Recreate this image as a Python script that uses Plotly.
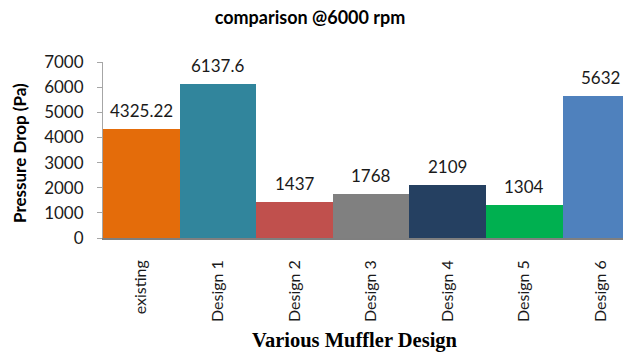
import plotly.graph_objects as go

categories = ["existing", "Design 1", "Design 2", "Design 3", "Design 4", "Design 5", "Design 6"]
values = [4325.22, 6137.6, 1437, 1768, 2109, 1304, 5632]
value_labels = ["4325.22", "6137.6", "1437", "1768", "2109", "1304", "5632"]
bar_colors = ["#E46C0A", "#31859C", "#C0504D", "#808080", "#254061", "#00B050", "#4F81BD"]
y_ticks = [0, 1000, 2000, 3000, 4000, 5000, 6000, 7000]

W, H = 623, 352
ML, MR, MT, MB = 103, 0, 62, 114
PW = W - ML - MR
PH = H - MT - MB

fig = go.Figure()
fig.add_trace(go.Bar(
    x=list(range(len(categories))), y=values,
    marker=dict(color=bar_colors, line=dict(width=0)),
    width=1.0,
    hoverinfo="skip",
))

annotations = []
for i, (v, t) in enumerate(zip(values, value_labels)):
    annotations.append(dict(
        x=i, y=v, xref="x", yref="y", text=t, showarrow=False,
        yanchor="bottom", yshift=6,
        font=dict(family="Lato", size=17, color="#1a1a1a"),
    ))

# Y axis title
annotations.append(dict(
    x=-(ML - 19) / PW, y=(H - MB - 153) / PH, xref="paper", yref="paper",
    text="<b>Pressure Drop (Pa)</b>", showarrow=False, textangle=-90,
    xanchor="center", yanchor="middle",
    font=dict(family="Lato", size=17, color="#000000"),
))
# X axis title
annotations.append(dict(
    x=(355 - ML) / PW, y=-(340 - (H - MB)) / PH, xref="paper", yref="paper",
    text="<b>Various Muffler Design</b>", showarrow=False,
    xanchor="center", yanchor="middle",
    font=dict(family="Liberation Serif", size=20.5, color="#000000"),
))

fig.update_layout(
    width=W, height=H,
    margin=dict(l=ML, r=MR, t=MT, b=MB),
    paper_bgcolor="white", plot_bgcolor="white",
    bargap=0,
    showlegend=False,
    title=dict(
        text="<b>comparison @6000 rpm</b>",
        x=310 / W, y=1 - 18 / H, xref="container", yref="container",
        xanchor="center", yanchor="middle",
        font=dict(family="Lato", size=18, color="#000000"),
    ),
    annotations=annotations,
    xaxis=dict(
        tickmode="array", tickvals=list(range(len(categories))), ticktext=categories,
        range=[-0.5, -0.5 + PW / 76.6],
        tickangle=-90,
        ticks="", showgrid=False, zeroline=False,
        showline=True, linecolor="#7f7f7f", linewidth=1.5,
        ticklabelstandoff=14,
        tickfont=dict(family="Lato", size=16, color="#1a1a1a"),
    ),
    yaxis=dict(
        range=[0, 7000], tickmode="array", tickvals=y_ticks,
        ticks="outside", ticklen=5, tickcolor="#a6a6a6",
        showgrid=False, zeroline=False,
        showline=True, linecolor="#a6a6a6", linewidth=1,
        ticklabelstandoff=10,
        tickfont=dict(family="Lato", size=17, color="#1a1a1a"),
    ),
)

fig.write_html(
    "out.html",
    config={"displayModeBar": False},
    post_script="document.body.style.margin='0';document.body.style.overflow='hidden';",
)
